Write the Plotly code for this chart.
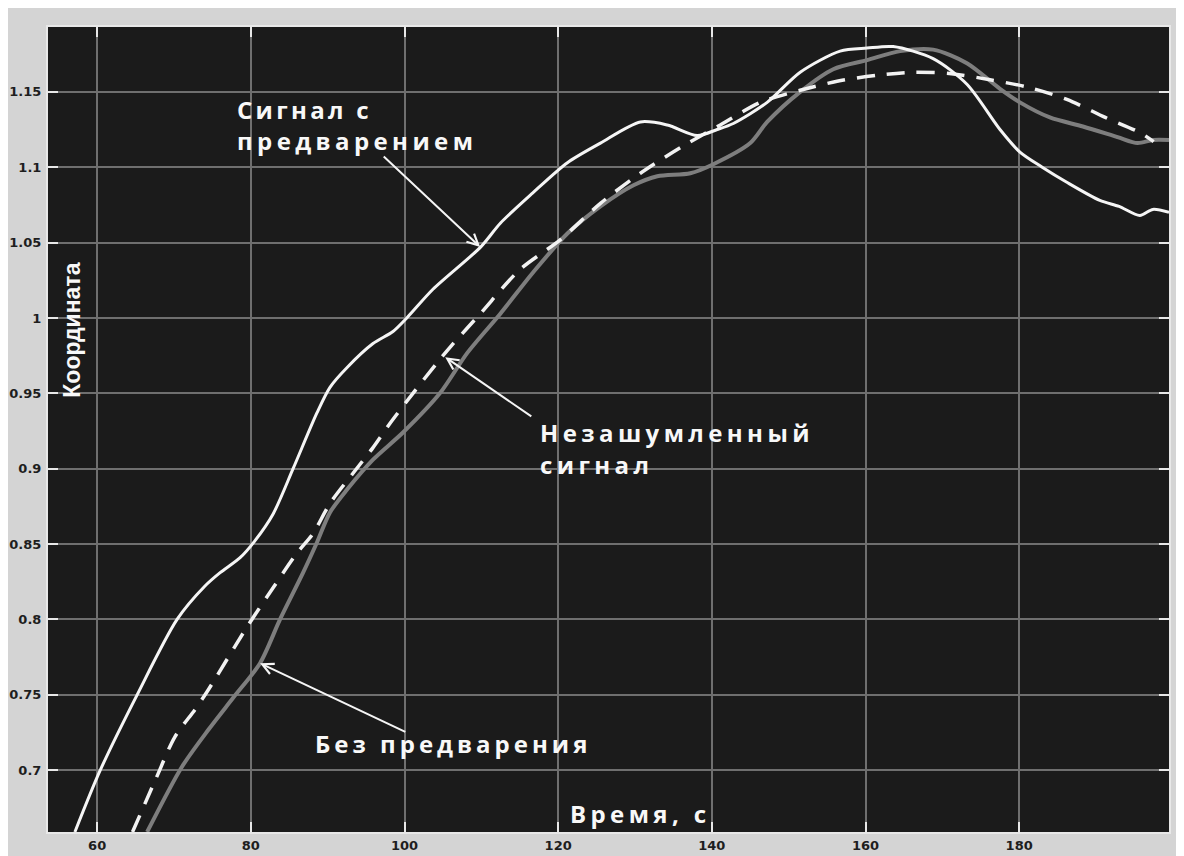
import plotly.graph_objects as go

# ---- data ----
t_pred = [57.1, 60.4, 65.2, 70.4, 74.0, 76.0, 78.6, 80.5, 82.9, 85.5, 88.6, 90.3, 92.5, 95.9, 98.5,
          100.3, 103.7, 109.9, 112.5, 116.7, 121.2, 125.5, 130.7, 134.2, 138.1, 140.7, 142.8, 147.2,
          151.5, 156.7, 160.2, 163.6, 168.8, 173.2, 177.5, 180.1, 183.0, 186.2, 190.5, 193.0, 195.7,
          197.4, 199.5]
v_pred = [0.659, 0.700, 0.750, 0.800, 0.822, 0.831, 0.841, 0.852, 0.870, 0.900, 0.937, 0.954, 0.967,
          0.983, 0.991, 1.000, 1.019, 1.047, 1.063, 1.083, 1.103, 1.116, 1.130, 1.128, 1.121, 1.125,
          1.129, 1.143, 1.163, 1.177, 1.179, 1.180, 1.172, 1.155, 1.125, 1.110, 1.100, 1.090, 1.078,
          1.074, 1.068, 1.072, 1.070]

t_clean = [64.6, 67.7, 70.1, 72.7, 74.3, 79.5, 82.9, 86.0, 88.1, 90.3, 93.3, 95.9, 98.1, 101.1, 104.2,
           106.0, 109.9, 115.0, 120.3, 125.5, 130.7, 135.9, 141.1, 146.3, 151.5, 156.3, 161.5, 166.2,
           171.2, 176.2, 181.2, 186.2, 191.2, 195.7, 197.5]
v_clean = [0.659, 0.695, 0.722, 0.740, 0.752, 0.795, 0.821, 0.844, 0.857, 0.877, 0.897, 0.914, 0.930,
           0.950, 0.970, 0.981, 1.003, 1.032, 1.052, 1.076, 1.096, 1.113, 1.128, 1.143, 1.151, 1.157,
           1.161, 1.163, 1.162, 1.158, 1.153, 1.145, 1.133, 1.123, 1.117]

t_nopred = [66.5, 71.0, 74.5, 77.7, 81.2, 83.8, 86.8, 88.6, 90.3, 92.5, 95.9, 99.8, 104.6, 108.2, 112.5,
            116.7, 121.2, 125.5, 129.8, 132.9, 137.2, 140.2, 145.0, 147.2, 151.5, 155.8, 160.2, 164.5,
            168.8, 173.2, 177.5, 180.1, 184.0, 188.3, 192.8, 195.4, 197.4, 199.5]
v_nopred = [0.659, 0.702, 0.727, 0.748, 0.771, 0.800, 0.831, 0.851, 0.871, 0.886, 0.906, 0.924, 0.950,
            0.977, 1.003, 1.030, 1.056, 1.074, 1.088, 1.094, 1.096, 1.102, 1.116, 1.130, 1.150, 1.165,
            1.171, 1.177, 1.178, 1.169, 1.152, 1.143, 1.133, 1.127, 1.120, 1.116, 1.118, 1.118]

x_ticks = [60, 80, 100, 120, 140, 160, 180]
x_labels = ["60", "80", "100", "120", "140", "160", "180"]
y_ticks = [0.7, 0.75, 0.8, 0.85, 0.9, 0.95, 1.0, 1.05, 1.1, 1.15]
y_labels = ["0.7", "0.75", "0.8", "0.85", "0.9", "0.95", "1", "1.05", "1.1", "1.15"]

x_title = "Время, с"
y_title = "Координата"
lbl_pred = ["Сигнал с", "предварением"]
lbl_clean = ["Незашумленный", "сигнал"]
lbl_nopred = ["Без предварения"]

BG = "#1b1b1b"
GRID = "#6f6f6f"
TXT_FONT = "Open Sans, DejaVu Sans, sans-serif"

fig = go.Figure()
fig.add_trace(go.Scatter(x=t_nopred, y=v_nopred, mode="lines",
                         line=dict(color="#7e7e7e", width=4, shape="spline", smoothing=0.8),
                         hoverinfo="skip"))
fig.add_trace(go.Scatter(x=t_clean, y=v_clean, mode="lines",
                         line=dict(color="#f2f2f2", width=3.5, dash="18px,12px", shape="spline",
                                   smoothing=0.8), hoverinfo="skip"))
fig.add_trace(go.Scatter(x=t_pred, y=v_pred, mode="lines",
                         line=dict(color="#f5f5f5", width=3, shape="spline", smoothing=0.8),
                         hoverinfo="skip"))


def sp(s, ls):
    return f'<span style="letter-spacing:{ls}px">{s}</span>'


def label(tx, ty, s, ls=4.4, size=24):
    return dict(x=tx, y=ty, xref="x", yref="y", xanchor="left", yanchor="middle",
                text="<b>" + sp(s, ls) + "</b>", showarrow=False,
                font=dict(family=TXT_FONT, size=size, color="#f8f8f8"))


def arrow(hx, hy, tx, ty):
    return dict(x=hx, y=hy, ax=tx, ay=ty, xref="x", yref="y", axref="x", ayref="y",
                text="", showarrow=True, arrowhead=5, arrowsize=1.1, arrowwidth=2,
                arrowcolor="#f5f5f5", standoff=0, startstandoff=0)


ann = [
    label(78.0, 1.138, lbl_pred[0], ls=3.3),
    label(78.0, 1.1175, lbl_pred[1]),
    label(117.4, 0.9243, lbl_clean[0]),
    label(117.4, 0.9025, lbl_clean[1]),
    label(88.1, 0.718, lbl_nopred[0], ls=4.0),
    arrow(109.85, 1.047, 97.1, 1.108),
    arrow(105.3, 0.974, 116.7, 0.934),
    arrow(81.2, 0.771, 100.3, 0.725),
    # axis titles drawn inside the plot area
    dict(x=0.0214, y=0.624, xref="paper", yref="paper", text="<b>" + y_title + "</b>",
         textangle=-90, showarrow=False, xanchor="center", yanchor="middle",
         font=dict(family="Liberation Sans, Arial", size=23, color="#f8f8f8")),
    dict(x=121.3, y=0.6715, xref="x", yref="y", text="<b>" + sp(x_title, 4.4) + "</b>",
         showarrow=False, xanchor="left", yanchor="middle",
         font=dict(family=TXT_FONT, size=24, color="#f8f8f8")),
]

axis_common = dict(showgrid=True, gridcolor=GRID, gridwidth=1.5, showline=True, linecolor="#e8e8e8",
                   linewidth=2, mirror="ticks", ticks="inside", ticklen=10, tickwidth=1.5,
                   tickcolor="#e8e8e8", zeroline=False, automargin=False,
                   tickfont=dict(family="DejaVu Sans", size=13, color="#1e1e1e", weight="bold"))

# the page body adds an 8px white margin, which forms the white border of the reference
fig.update_layout(
    width=1169, height=848,
    margin=dict(l=40, r=8, t=19, b=24),
    paper_bgcolor="#d4d4d4",
    plot_bgcolor=BG,
    showlegend=False,
    xaxis=dict(range=[53.6, 199.5], tickvals=x_ticks, ticktext=x_labels, **axis_common),
    yaxis=dict(range=[0.659, 1.193], tickvals=y_ticks, ticktext=y_labels, ticklabelstandoff=2,
               **axis_common),
    annotations=ann,
)

fig.write_html("out.html")
